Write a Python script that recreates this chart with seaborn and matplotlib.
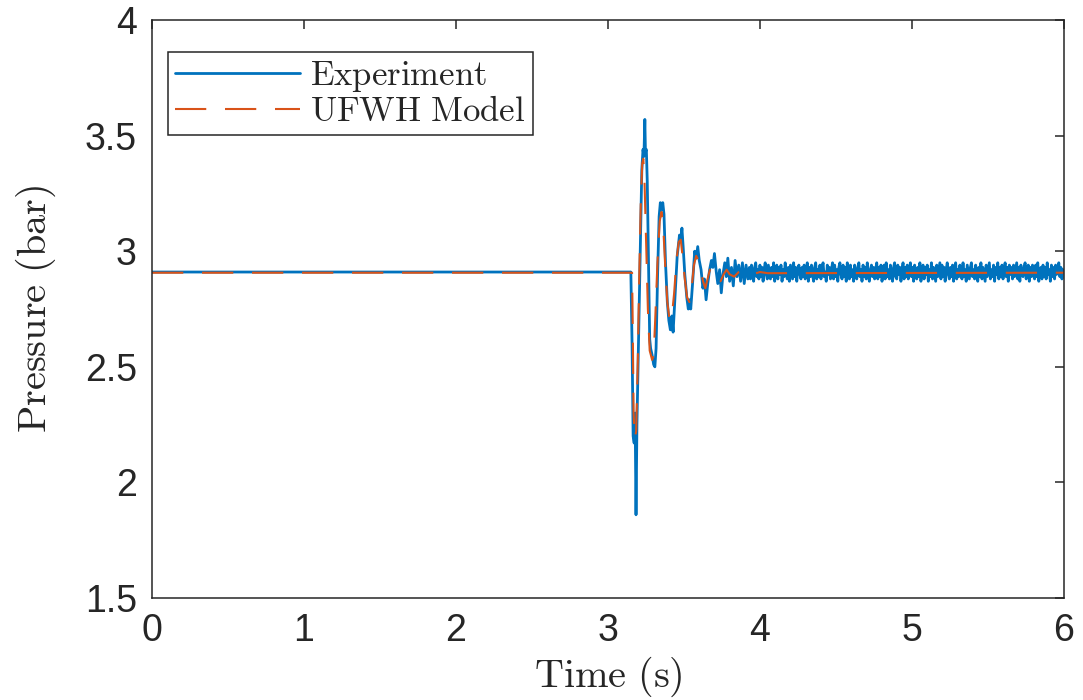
import numpy as np
import pandas as pd
import matplotlib
matplotlib.use("Agg")
import matplotlib.pyplot as plt
import seaborn as sns

# ---------------- data ----------------
exp_t_head = [0.0, 3.150, 3.158, 3.165, 3.172, 3.178, 3.184, 3.190, 3.200, 3.212,
              3.222, 3.230, 3.236, 3.242, 3.246, 3.252, 3.258, 3.266, 3.274, 3.280,
              3.290, 3.300, 3.308, 3.316, 3.326, 3.336, 3.344, 3.352, 3.360, 3.368,
              3.378, 3.390, 3.400, 3.410, 3.420, 3.428, 3.440, 3.455, 3.470, 3.478,
              3.486, 3.494, 3.505, 3.518, 3.528, 3.536, 3.544, 3.556, 3.570, 3.580,
              3.590, 3.600, 3.612, 3.624, 3.634, 3.645, 3.656, 3.668, 3.680, 3.690,
              3.700, 3.712, 3.722, 3.734, 3.745, 3.756, 3.768, 3.778, 3.788, 3.800,
              3.812, 3.824, 3.836, 3.848, 3.860, 3.872, 3.884, 3.896, 3.908, 3.920]
exp_p_head = [2.91, 2.91, 2.60, 2.20, 2.17, 2.30, 1.86, 2.25, 2.60, 3.00,
              3.35, 3.44, 3.41, 3.57, 3.43, 3.44, 3.30, 2.95, 2.62, 2.58,
              2.55, 2.51, 2.50, 2.58, 2.90, 3.15, 3.21, 3.18, 3.21, 3.16,
              2.95, 2.78, 2.70, 2.66, 2.72, 2.65, 2.80, 2.98, 3.07, 3.04,
              3.10, 3.02, 2.90, 2.80, 2.75, 2.79, 2.75, 2.86, 3.00, 2.97,
              3.02, 2.96, 2.92, 2.84, 2.88, 2.79, 2.86, 2.92, 2.96, 2.93,
              2.99, 2.91, 2.86, 2.92, 2.82, 2.90, 2.95, 2.89, 2.97, 2.87,
              2.93, 2.85, 2.96, 2.89, 2.94, 2.87, 2.95, 2.86, 2.94, 2.88]
exp_p_tail = [
    2.93, 2.88, 2.94, 2.90, 2.87, 2.93, 2.95, 2.89, 2.92, 2.88,
    2.94, 2.89, 2.93, 2.87, 2.92, 2.95, 2.90, 2.88, 2.94, 2.91,
    2.88, 2.93, 2.89, 2.95, 2.87, 2.92, 2.94, 2.88, 2.93, 2.90,
    2.94, 2.87, 2.92, 2.89, 2.95, 2.90, 2.88, 2.93, 2.87, 2.94,
    2.91, 2.88, 2.95, 2.89, 2.93, 2.87, 2.92, 2.94, 2.90, 2.88,
    2.93, 2.89, 2.94, 2.88, 2.92, 2.95, 2.87, 2.93, 2.89, 2.94,
    2.90, 2.87, 2.93, 2.95, 2.88, 2.92, 2.89, 2.94, 2.88, 2.93,
    2.95, 2.89, 2.91, 2.87, 2.94, 2.90, 2.93, 2.88, 2.92, 2.95,
    2.88, 2.94, 2.89, 2.92, 2.87, 2.93, 2.95, 2.90, 2.88, 2.94,
    2.89, 2.93, 2.87, 2.95, 2.91, 2.88, 2.94, 2.89, 2.92, 2.87,
    2.94, 2.90, 2.88, 2.93, 2.95, 2.89, 2.92, 2.87, 2.94, 2.89,
    2.93, 2.88, 2.95, 2.90, 2.87, 2.92, 2.94, 2.89, 2.93, 2.88,
    2.92, 2.95, 2.88, 2.93, 2.89, 2.94, 2.87, 2.91, 2.94, 2.88,
    2.95, 2.89, 2.92, 2.88, 2.94, 2.90, 2.87, 2.93, 2.95, 2.89,
    2.88, 2.94, 2.90, 2.93, 2.87, 2.92, 2.95, 2.88, 2.93, 2.89,
    2.94, 2.88, 2.92, 2.95, 2.89, 2.93, 2.87, 2.94, 2.90, 2.88,
    2.93, 2.89, 2.95, 2.87, 2.92, 2.94, 2.88, 2.93, 2.90, 2.94,
    2.87, 2.92, 2.89, 2.95, 2.88, 2.93, 2.90, 2.87, 2.94, 2.89,
    2.92, 2.95, 2.88, 2.94, 2.89, 2.93, 2.87, 2.92, 2.95, 2.90,
    2.88, 2.93, 2.89, 2.94, 2.87, 2.93, 2.95, 2.88, 2.92, 2.89,
    2.94, 2.90, 2.88, 2.95, 2.89, 2.92, 2.87, 2.94, 2.91, 2.88,
    2.93, 2.95, 2.89, 2.92, 2.88, 2.94, 2.90, 2.87, 2.93, 2.89,
    2.95, 2.88, 2.93, 2.90, 2.87, 2.94, 2.89, 2.92, 2.95, 2.88,
    2.92, 2.89, 2.94, 2.87, 2.93, 2.90, 2.95, 2.88, 2.93, 2.89,
    2.94, 2.88, 2.92, 2.95, 2.89, 2.93, 2.87, 2.94, 2.90, 2.93,
    2.88, 2.94, 2.89, 2.92, 2.95, 2.88, 2.93, 2.87, 2.94, 2.90,
    2.89, 2.93, 2.95, 2.88, 2.92, 2.94, 2.87, 2.93, 2.89, 2.94,
    2.90, 2.88, 2.94, 2.89, 2.95, 2.87, 2.92, 2.93, 2.88, 2.94,
    2.89, 2.93, 2.88, 2.95, 2.90, 2.92, 2.87, 2.94, 2.89, 2.93,
    2.88, 2.94, 2.90, 2.92, 2.95, 2.89, 2.93, 2.88, 2.92, 2.91]
tail_start, tail_end = 3.93, 6.0

model_t = [0.0, 3.158, 3.162, 3.168, 3.175, 3.185, 3.195, 3.205, 3.215, 3.225,
           3.232, 3.240, 3.250, 3.262, 3.274, 3.290, 3.300, 3.310, 3.325, 3.340,
           3.352, 3.362, 3.375, 3.390, 3.405, 3.420, 3.435, 3.450, 3.465, 3.478,
           3.490, 3.505, 3.520, 3.535, 3.550, 3.565, 3.580, 3.595, 3.610, 3.625,
           3.640, 3.655, 3.670, 3.690, 3.705, 3.720, 3.740, 3.760, 3.780, 3.800,
           3.830, 3.860, 3.900, 3.950, 4.000, 4.050, 6.000]
model_p = [2.907, 2.907, 2.70, 2.30, 2.19, 2.22, 2.50, 2.88, 3.20, 3.38,
           3.40, 3.30, 3.05, 2.75, 2.57, 2.53, 2.55, 2.70, 2.95, 3.13,
           3.17, 3.12, 2.95, 2.78, 2.70, 2.72, 2.82, 2.96, 3.04, 3.05,
           2.98, 2.88, 2.80, 2.78, 2.84, 2.94, 2.98, 2.96, 2.92, 2.87,
           2.84, 2.88, 2.92, 2.93, 2.91, 2.88, 2.87, 2.90, 2.92, 2.90,
           2.89, 2.91, 2.92, 2.90, 2.91, 2.905, 2.907]

x_ticks = [0, 1, 2, 3, 4, 5, 6]
y_ticks = [1.5, 2, 2.5, 3, 3.5, 4]
y_tick_labels = ["1.5", "2", "2.5", "3", "3.5", "4"]

# ---------------- assemble ----------------
exp_t = np.concatenate([exp_t_head, np.linspace(tail_start, tail_end, len(exp_p_tail))])
exp_p = np.concatenate([exp_p_head, exp_p_tail])

sns.set_theme(style="white")
plt.rcParams["font.family"] = ["Liberation Sans", "DejaVu Sans"]
plt.rcParams["mathtext.fontset"] = "cm"

fig = plt.figure(figsize=(10.83, 7), dpi=100)
ax = fig.add_axes([0.1404, 0.1457, 0.8421, 0.8257])

sns.lineplot(x=exp_t, y=exp_p, ax=ax, color="#0072BD", linewidth=2.0,
             sort=False, estimator=None, label=r"$\mathrm{Experiment}$")
sns.lineplot(x=model_t, y=model_p, ax=ax, color="#D95319", linewidth=1.5,
             sort=False, estimator=None, label=r"$\mathrm{UFWH\ Model}$")
ax.lines[1].set_dashes([15, 9])

ax.set_xlim(0, 6)
ax.set_ylim(1.5, 4)
ax.set_xticks(x_ticks)
ax.set_xticklabels([str(v) for v in x_ticks])
ax.set_yticks(y_ticks)
ax.set_yticklabels(y_tick_labels)

ax.tick_params(direction="in", length=6.5, width=1.1, colors="#262626",
               labelsize=27, top=True, right=True)
ax.tick_params(axis="x", pad=11)
ax.tick_params(axis="y", pad=11)
for s in ax.spines.values():
    s.set_color("#262626")
    s.set_linewidth(1.1)
    s.set_visible(True)

ax.set_xlabel(r"$\mathrm{Time\ (s)}$", fontsize=29, labelpad=4, color="#262626")
ax.set_ylabel(r"$\mathrm{Pressure\ (bar)}$", fontsize=29, labelpad=19, color="#262626")

leg = ax.legend(loc="upper left", bbox_to_anchor=(0.0175, 0.9446), borderaxespad=0,
                fontsize=25, handlelength=3.6, handletextpad=0.3, borderpad=0.2,
                labelspacing=0.02, fancybox=False, framealpha=1, edgecolor="#262626")
leg.get_frame().set_linewidth(1.1)

fig.savefig("out.png", dpi=100)
